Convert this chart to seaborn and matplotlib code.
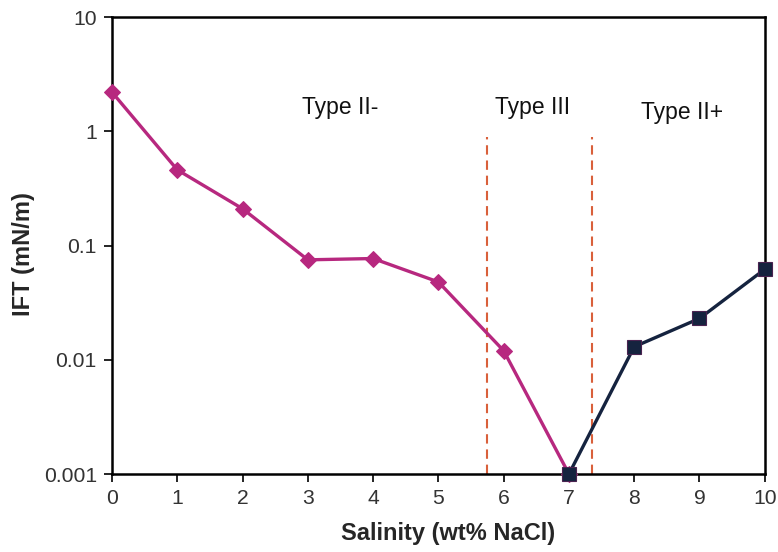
import numpy as np
import pandas as pd
import seaborn as sns
import matplotlib
matplotlib.use("Agg")
import matplotlib.pyplot as plt
from matplotlib.ticker import FixedLocator, FixedFormatter, NullLocator

sns.set_style("white")
plt.rcParams['font.family'] = ['Liberation Sans', 'DejaVu Sans']

# Data
salinity_low = [0, 1, 2, 3, 4, 5, 6, 7]
ift_low = [2.2, 0.46, 0.21, 0.075, 0.077, 0.048, 0.012, 0.001]
salinity_high = [7, 8, 9, 10]
ift_high = [0.001, 0.013, 0.023, 0.062]
boundaries = [5.75, 7.35]
region_labels = ["Type II-", "Type III", "Type II+"]
region_x = [3.5, 6.45, 8.74]
region_y = [1.62, 1.62, 1.45]
yticks = [0.001, 0.01, 0.1, 1, 10]
ytick_labels = ["0.001", "0.01", "0.1", "1", "10"]
xticks = list(range(0, 11))

magenta = "#b7287f"
navy = "#15233f"
dash_col = "#d9603b"

fig = plt.figure(figsize=(7.78, 5.52), dpi=100)
ax = fig.add_axes([0.144, 0.1413, 0.839, 0.8277])

df_low = pd.DataFrame({"x": salinity_low, "y": ift_low})
df_high = pd.DataFrame({"x": salinity_high, "y": ift_high})

for b in boundaries:
    ax.plot([b, b], [0.001, 0.9], linestyle=(0, (4.5, 2.8)), color=dash_col, lw=1.5, zorder=1)

sns.lineplot(data=df_low, x="x", y="y", ax=ax, color=magenta, lw=2.4,
             marker="D", markersize=8.5, markeredgecolor=magenta, zorder=3,
             clip_on=False)
sns.lineplot(data=df_high, x="x", y="y", ax=ax, color=navy, lw=2.4,
             marker="s", markersize=10.5, markeredgecolor="#4a2350",
             markeredgewidth=0.8, zorder=4, clip_on=False)

ax.set_yscale("log")
ax.set_xlim(0, 10)
ax.set_ylim(0.001, 10)
ax.yaxis.set_major_locator(FixedLocator(yticks))
ax.yaxis.set_major_formatter(FixedFormatter(ytick_labels))
ax.yaxis.set_minor_locator(NullLocator())
ax.set_xticks(xticks)
ax.set_xticklabels([str(t) for t in xticks])

for lab, xx, yy in zip(region_labels, region_x, region_y):
    ax.text(xx, yy, lab, ha="center", va="center", fontsize=16.5, color="#111111")

ax.tick_params(axis="both", which="major", direction="out", length=6, width=1.2,
               labelsize=15.2, colors="black", left=True, bottom=True, pad=5)
ax.tick_params(axis="both", labelcolor="#333333")
for s in ax.spines.values():
    s.set_color("black")
    s.set_linewidth(1.8)

ax.set_xlabel("Salinity (wt% NaCl)", fontsize=17, fontweight="bold")
ax.set_ylabel("IFT (mN/m)", fontsize=17, fontweight="bold")
ax.xaxis.set_label_coords(0.5145, -0.105)
ax.yaxis.set_label_coords(-0.118, 0.481)

fig.savefig("out.png", dpi=100)
